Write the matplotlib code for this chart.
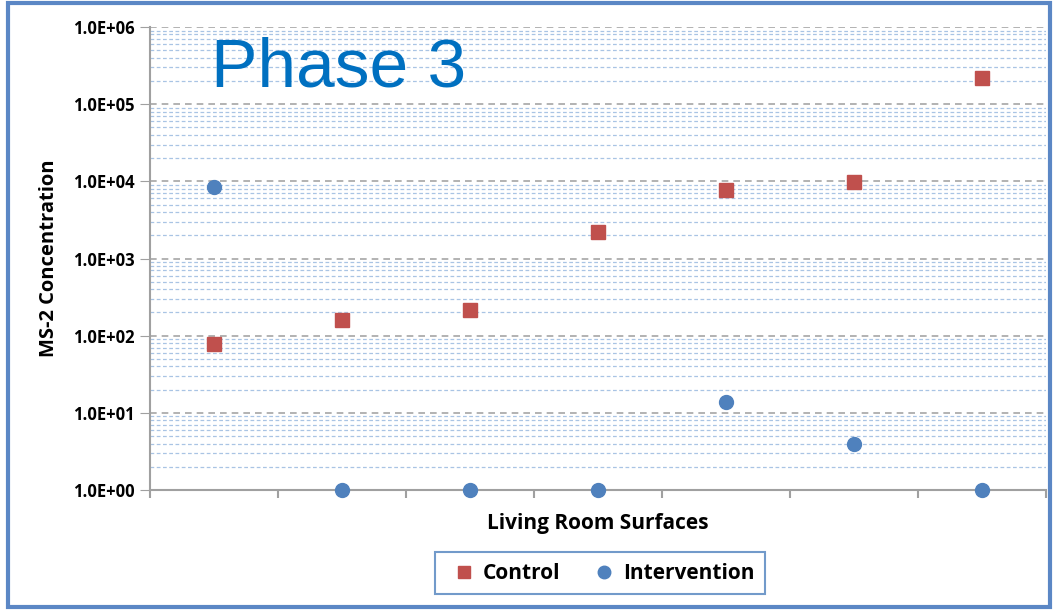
import matplotlib.pyplot as plt
from matplotlib.patches import Rectangle
from matplotlib.ticker import LogLocator, FixedLocator, NullFormatter

# living room surfaces, 7 samples per group
surfaces = [1, 2, 3, 4, 5, 6, 7]
control = [78, 160, 215, 2200, 7700, 9800, 220000]
intervention = [8400, 1, 1, 1, 13.8, 4.0, 1]
ytick_vals = [1, 10, 100, 1000, 10000, 100000, 1000000]
ytick_labels = ['1.0E+00', '1.0E+01', '1.0E+02', '1.0E+03', '1.0E+04', '1.0E+05', '1.0E+06']

plt.rcParams['font.family'] = ['Open Sans', 'DejaVu Sans']

fig = plt.figure(figsize=(10.56, 6.10), dpi=100)
ax = fig.add_axes([150/1056, 1 - 490/610, 896/1056, 463/610])

# blue frame round the slide
fig.patches.append(Rectangle((8/1056, 3/610), 1042/1056, 604/610, transform=fig.transFigure,
                             fill=False, edgecolor='#5B87C5', linewidth=3))

ax.plot(surfaces, control, 's', color='#C0504D', markersize=10, label='Control', zorder=3)
ax.plot(surfaces, intervention, 'o', color='#4F81BD', markersize=10, label='Intervention',
        zorder=3, clip_on=False)

ax.set_yscale('log')
ax.set_ylim(1, 1e6)
ax.set_xlim(0.5, 7.5)
ax.set_yticks(ytick_vals)
ax.set_yticklabels(ytick_labels, fontweight='bold', fontsize=12)
ax.yaxis.set_minor_locator(LogLocator(base=10, subs=range(2, 10)))
ax.yaxis.set_minor_formatter(NullFormatter())
ax.tick_params(axis='y', which='minor', length=0)
ax.tick_params(axis='y', which='major', length=7, color='#A0A0A0', pad=4)

ax.xaxis.set_major_locator(FixedLocator([0.5 + i for i in range(8)]))
ax.set_xticklabels([])
ax.tick_params(axis='x', which='major', length=6, width=1.5, color='#A0A0A0', direction='out')

ax.grid(True, which='major', axis='y', linestyle=(0, (4, 3)), color='#A6A6A6', linewidth=1.2)
ax.grid(True, which='minor', axis='y', linestyle=(0, (3, 2)), color='#A9C4E4', linewidth=0.9)
ax.set_axisbelow(True)

for s in ['top', 'right']:
    ax.spines[s].set_visible(False)
for s in ['left', 'bottom']:
    ax.spines[s].set_color('#A0A0A0')
    ax.spines[s].set_linewidth(1.5)

ax.set_ylabel('MS-2 Concentration', fontweight='bold', fontsize=14.5, labelpad=10)
ax.set_xlabel('Living Room Surfaces', fontweight='bold', fontsize=15, labelpad=7)

ax.text(0.068, 0.91, 'Phase 3', transform=ax.transAxes, fontsize=50, color='#0070C0',
        family='Liberation Sans', va='center', ha='left')

leg = ax.legend(loc='center', bbox_to_anchor=(0.502, -0.18), ncol=2, frameon=True,
                fancybox=False, edgecolor='#4F81BD', fontsize=15, handletextpad=0.0,
                columnspacing=1.2, borderpad=0.5, markerscale=0.9, handlelength=1.8)
for t in leg.get_texts():
    t.set_fontweight('bold')
leg.get_frame().set_linewidth(1.5)

fig.savefig('out.png', dpi=100)
